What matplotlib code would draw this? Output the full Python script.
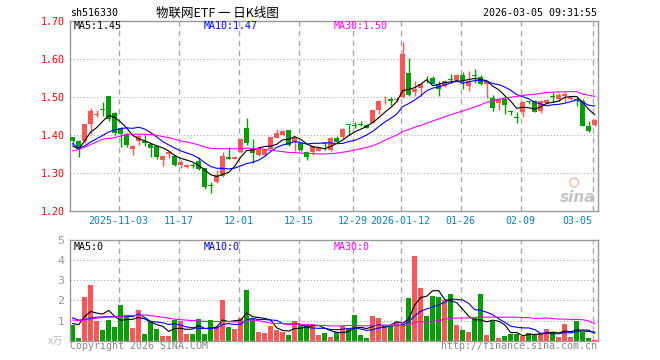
import matplotlib
matplotlib.use('Agg')
import matplotlib.pyplot as plt
import numpy as np
import pandas as pd

# daily candles, oldest first
opens = [1.394, 1.383, 1.383, 1.428, 1.452, 1.468, 1.503, 1.457, 1.419, 1.402,
         1.364, 1.385, 1.384, 1.376, 1.372, 1.333, 1.351, 1.344, 1.320, 1.316,
         1.322, 1.332, 1.312, 1.268, 1.277, 1.292, 1.342, 1.338, 1.355, 1.418,
         1.364, 1.347, 1.347, 1.364, 1.393, 1.401, 1.412, 1.381, 1.379, 1.356,
         1.354, 1.359, 1.377, 1.361, 1.392, 1.395, 1.427, 1.426, 1.428, 1.426,
         1.432, 1.467, 1.494, 1.495, 1.492, 1.500, 1.563, 1.514, 1.524, 1.555,
         1.550, 1.535, 1.528, 1.547, 1.541, 1.559, 1.528, 1.557, 1.552, 1.535,
         1.497, 1.484, 1.496, 1.462, 1.447, 1.461, 1.490, 1.490, 1.463, 1.483,
         1.502, 1.496, 1.503, 1.494, 1.494, 1.489, 1.424, 1.426]
highs = [1.396, 1.386, 1.430, 1.470, 1.466, 1.488, 1.503, 1.460, 1.421, 1.404,
         1.373, 1.399, 1.400, 1.379, 1.374, 1.346, 1.358, 1.347, 1.334, 1.323,
         1.327, 1.343, 1.313, 1.277, 1.308, 1.355, 1.369, 1.344, 1.391, 1.446,
         1.390, 1.369, 1.363, 1.396, 1.415, 1.412, 1.414, 1.397, 1.381, 1.358,
         1.374, 1.369, 1.378, 1.394, 1.397, 1.419, 1.427, 1.435, 1.438, 1.428,
         1.469, 1.491, 1.503, 1.500, 1.500, 1.645, 1.603, 1.541, 1.537, 1.555,
         1.556, 1.541, 1.545, 1.561, 1.560, 1.566, 1.568, 1.574, 1.558, 1.542,
         1.506, 1.497, 1.502, 1.465, 1.460, 1.490, 1.490, 1.492, 1.492, 1.494,
         1.514, 1.511, 1.514, 1.503, 1.500, 1.494, 1.437, 1.441]
lows = [1.376, 1.342, 1.380, 1.402, 1.448, 1.450, 1.437, 1.400, 1.369, 1.369,
        1.347, 1.373, 1.370, 1.342, 1.338, 1.318, 1.339, 1.318, 1.314, 1.313,
        1.312, 1.307, 1.259, 1.248, 1.274, 1.290, 1.336, 1.336, 1.353, 1.375,
        1.327, 1.345, 1.345, 1.362, 1.391, 1.399, 1.372, 1.357, 1.359, 1.333,
        1.348, 1.357, 1.360, 1.359, 1.381, 1.389, 1.401, 1.418, 1.424, 1.418,
        1.431, 1.455, 1.481, 1.480, 1.488, 1.498, 1.502, 1.503, 1.502, 1.537,
        1.533, 1.502, 1.526, 1.538, 1.539, 1.521, 1.515, 1.537, 1.532, 1.497,
        1.462, 1.467, 1.454, 1.453, 1.432, 1.448, 1.482, 1.460, 1.459, 1.481,
        1.486, 1.489, 1.486, 1.492, 1.477, 1.424, 1.409, 1.424]
closes = [1.384, 1.367, 1.428, 1.463, 1.455, 1.467, 1.443, 1.404, 1.402, 1.375,
          1.371, 1.397, 1.380, 1.367, 1.343, 1.345, 1.355, 1.321, 1.329, 1.320,
          1.319, 1.310, 1.263, 1.266, 1.296, 1.345, 1.338, 1.343, 1.389, 1.380,
          1.352, 1.367, 1.361, 1.394, 1.404, 1.410, 1.375, 1.395, 1.361, 1.342,
          1.372, 1.367, 1.376, 1.392, 1.382, 1.416, 1.426, 1.425, 1.427, 1.419,
          1.467, 1.489, 1.496, 1.490, 1.495, 1.614, 1.504, 1.521, 1.535, 1.554,
          1.535, 1.522, 1.543, 1.545, 1.559, 1.543, 1.541, 1.555, 1.534, 1.541,
          1.471, 1.495, 1.479, 1.460, 1.445, 1.487, 1.488, 1.461, 1.489, 1.492,
          1.500, 1.505, 1.509, 1.501, 1.492, 1.424, 1.411, 1.439]
volumes = [0.80, 0.15, 2.17, 2.75, 1.00, 0.55, 1.05, 0.70, 1.75, 1.20,
           0.62, 1.50, 0.35, 0.92, 0.60, 0.22, 0.22, 1.05, 1.00, 0.32,
           0.32, 1.08, 0.32, 1.03, 0.70, 2.00, 0.67, 0.58, 1.15, 2.50,
           1.07, 0.45, 0.37, 0.75, 0.55, 0.42, 0.30, 1.00, 0.83, 0.83,
           0.80, 0.30, 0.38, 0.17, 0.43, 0.72, 0.58, 1.29, 0.30, 0.12,
           1.21, 1.11, 0.72, 0.75, 0.92, 0.85, 2.13, 4.20, 2.62, 1.25,
           2.20, 2.16, 2.00, 2.30, 0.80, 0.55, 0.41, 1.12, 2.30, 0.30,
           0.97, 0.14, 0.25, 0.35, 0.31, 0.21, 0.38, 0.33, 0.39, 0.58,
           0.45, 0.17, 0.83, 0.20, 1.00, 0.45, 0.14, 0.04]

# moving averages before enough days are on screen
ma5_head = [1.371, 1.363, 1.385, 1.408]
ma10_head = [1.377, 1.365, 1.371, 1.382, 1.390, 1.399, 1.408, 1.413, 1.417]
ma30_head = [1.358, 1.362, 1.368, 1.375, 1.382, 1.389, 1.391, 1.393, 1.397, 1.402,
             1.402, 1.402, 1.402, 1.401, 1.399, 1.396, 1.393, 1.389, 1.384, 1.382,
             1.378, 1.374, 1.368, 1.365, 1.364, 1.364, 1.364, 1.364, 1.364]
vma5_head = [0.85, 0.80, 1.20, 1.45]
vma10_head = [1.13, 1.02, 1.05, 1.12, 1.17, 1.18, 1.20, 1.20, 1.22]
vma30_head = [1.03, 1.00, 1.02, 1.08, 1.12, 1.15, 1.17, 1.18, 1.22, 1.25,
              1.25, 1.26, 1.28, 1.25, 1.20, 1.17, 1.12, 1.07, 1.05, 1.02,
              1.00, 0.98, 0.96, 0.95, 0.95, 0.95, 0.95, 0.94, 0.93]

tick_idx = [8, 18, 28, 38, 47, 55, 65, 75, 87]
tick_labels = ['2025-11-03', '11-17', '12-01', '12-15', '12-29',
               '2026-01-12', '01-26', '02-09', '03-05']


def moving_average(values, n, head):
    ma = pd.Series(values).rolling(n).mean().to_numpy()
    ma[:n - 1] = head
    return ma


RED = '#ff5555'
GREEN = '#00a000'
GRID = '#aaaaaa'
MONO = ['DejaVu Sans Mono', 'Noto Sans CJK SC']
CJK = ['Noto Sans CJK SC', 'DejaVu Sans']

opens = np.array(opens)
highs = np.array(highs)
lows = np.array(lows)
closes = np.array(closes)
volumes = np.array(volumes)
x = np.arange(len(closes))
colors = np.where(closes >= opens, RED, GREEN)

fig = plt.figure(figsize=(6.6, 3.6), dpi=100)
ax = fig.add_axes([70 / 660, 149 / 360, 528 / 660, 190 / 360])
axv = fig.add_axes([70 / 660, 19.3 / 360, 528 / 660, 100.7 / 360])

for a in (ax, axv):
    a.set_xlim(-0.45, 87.55)
    for s in a.spines.values():
        s.set_color('#999999')
        s.set_linewidth(1)
    for t in tick_idx:
        a.axvline(t - 0.35, color=GRID, lw=1, ls=(0, (4, 3)), zorder=0)

# price panel
ax.set_ylim(1.20, 1.70)
for y in [1.30, 1.40, 1.50, 1.60]:
    ax.axhline(y, color=GRID, lw=0.8, ls=(0, (1, 2)), zorder=0)
ax.vlines(x, lows, highs, colors=colors, lw=1, zorder=2)
body_h = np.maximum(np.abs(closes - opens), 0.002)
ax.bar(x, body_h, bottom=np.minimum(opens, closes), width=0.8,
       color=colors, linewidth=0, zorder=3)
ax.plot(x, moving_average(closes, 5, ma5_head), color='black', lw=0.8, zorder=4)
ax.plot(x, moving_average(closes, 10, ma10_head), color='blue', lw=0.8, zorder=4)
ax.plot(x, moving_average(closes, 30, ma30_head), color='magenta', lw=0.8, zorder=4)

ax.set_yticks([1.20, 1.30, 1.40, 1.50, 1.60, 1.70])
ax.set_yticklabels(['%.2f' % v for v in [1.20, 1.30, 1.40, 1.50, 1.60, 1.70]],
                   color='red', family=MONO, fontsize=7.2)
ax.set_xticks([t - 0.35 for t in tick_idx])
ax.set_xticklabels(tick_labels, color='#0a80c8', family=MONO, fontsize=7.2)
ax.get_xticklabels()[-1].set_ha('right')
ax.tick_params(length=0, pad=3.5)

ax.text(0.0076, 0.975, 'MA5:1.45', transform=ax.transAxes, color='black',
        family=MONO, fontsize=7.2, va='center')
ax.text(0.2538, 0.975, 'MA10:1.47', transform=ax.transAxes, color='blue',
        family=MONO, fontsize=7.2, va='center')
ax.text(0.5, 0.975, 'MA30:1.50', transform=ax.transAxes, color='magenta',
        family=MONO, fontsize=7.2, va='center')
ax.text(0.995, 0.07, 'sina', transform=ax.transAxes, color='#c4c4c4',
        fontsize=11, fontweight='bold', style='italic', ha='right', va='center')
ax.scatter([0.955], [0.15], s=40, transform=ax.transAxes, facecolors='none',
           edgecolors='#f0c0c0', linewidths=1.2, zorder=1)

# volume panel
axv.set_ylim(0, 5)
for y in [1, 2, 3, 4]:
    axv.axhline(y, color=GRID, lw=0.8, ls=(0, (1, 2)), zorder=0)
axv.bar(x, volumes, width=0.8, color=colors, linewidth=0, zorder=2)
axv.plot(x, moving_average(volumes, 5, vma5_head), color='black', lw=0.8, zorder=3)
axv.plot(x, moving_average(volumes, 10, vma10_head), color='blue', lw=0.8, zorder=3)
axv.plot(x, moving_average(volumes, 30, vma30_head), color='magenta', lw=0.8, zorder=3)
axv.set_yticks([1, 2, 3, 4, 5])
axv.set_yticklabels(['1', '2', '3', '4', '5'], color='#999999', fontsize=8)
axv.set_xticks([])
axv.tick_params(length=0, pad=4)
axv.text(0.0076, 0.935, 'MA5:0', transform=axv.transAxes, color='black',
         family=MONO, fontsize=7.2, va='center')
axv.text(0.2538, 0.935, 'MA10:0', transform=axv.transAxes, color='blue',
         family=MONO, fontsize=7.2, va='center')
axv.text(0.5, 0.935, 'MA30:0', transform=axv.transAxes, color='magenta',
         family=MONO, fontsize=7.2, va='center')

# header and footer
fig.text(70 / 660, 1 - 13 / 360, 'sh516330', family=MONO, fontsize=7.2,
         va='center', ha='left')
fig.text(217 / 660, 1 - 13 / 360, '物联网ETF 一 日K线图', family=CJK, fontsize=9,
         va='center', ha='center')
fig.text(597 / 660, 1 - 13 / 360, '2026-03-05 09:31:55', family=MONO, fontsize=7.2,
         va='center', ha='right')
fig.text(63 / 660, 1 - 342 / 360, 'x万', family=CJK, fontsize=7.5, color='#bbbbbb',
         va='center', ha='right')
fig.text(70 / 660, 1 - 346 / 360, 'Copyright 2026 SINA.COM', family=MONO,
         fontsize=7.2, color='#888888', va='center', ha='left')
fig.text(597 / 660, 1 - 346 / 360, 'http://finance.sina.com.cn', family=MONO,
         fontsize=7.2, color='#888888', va='center', ha='right')

fig.savefig('out.png', dpi=100)
